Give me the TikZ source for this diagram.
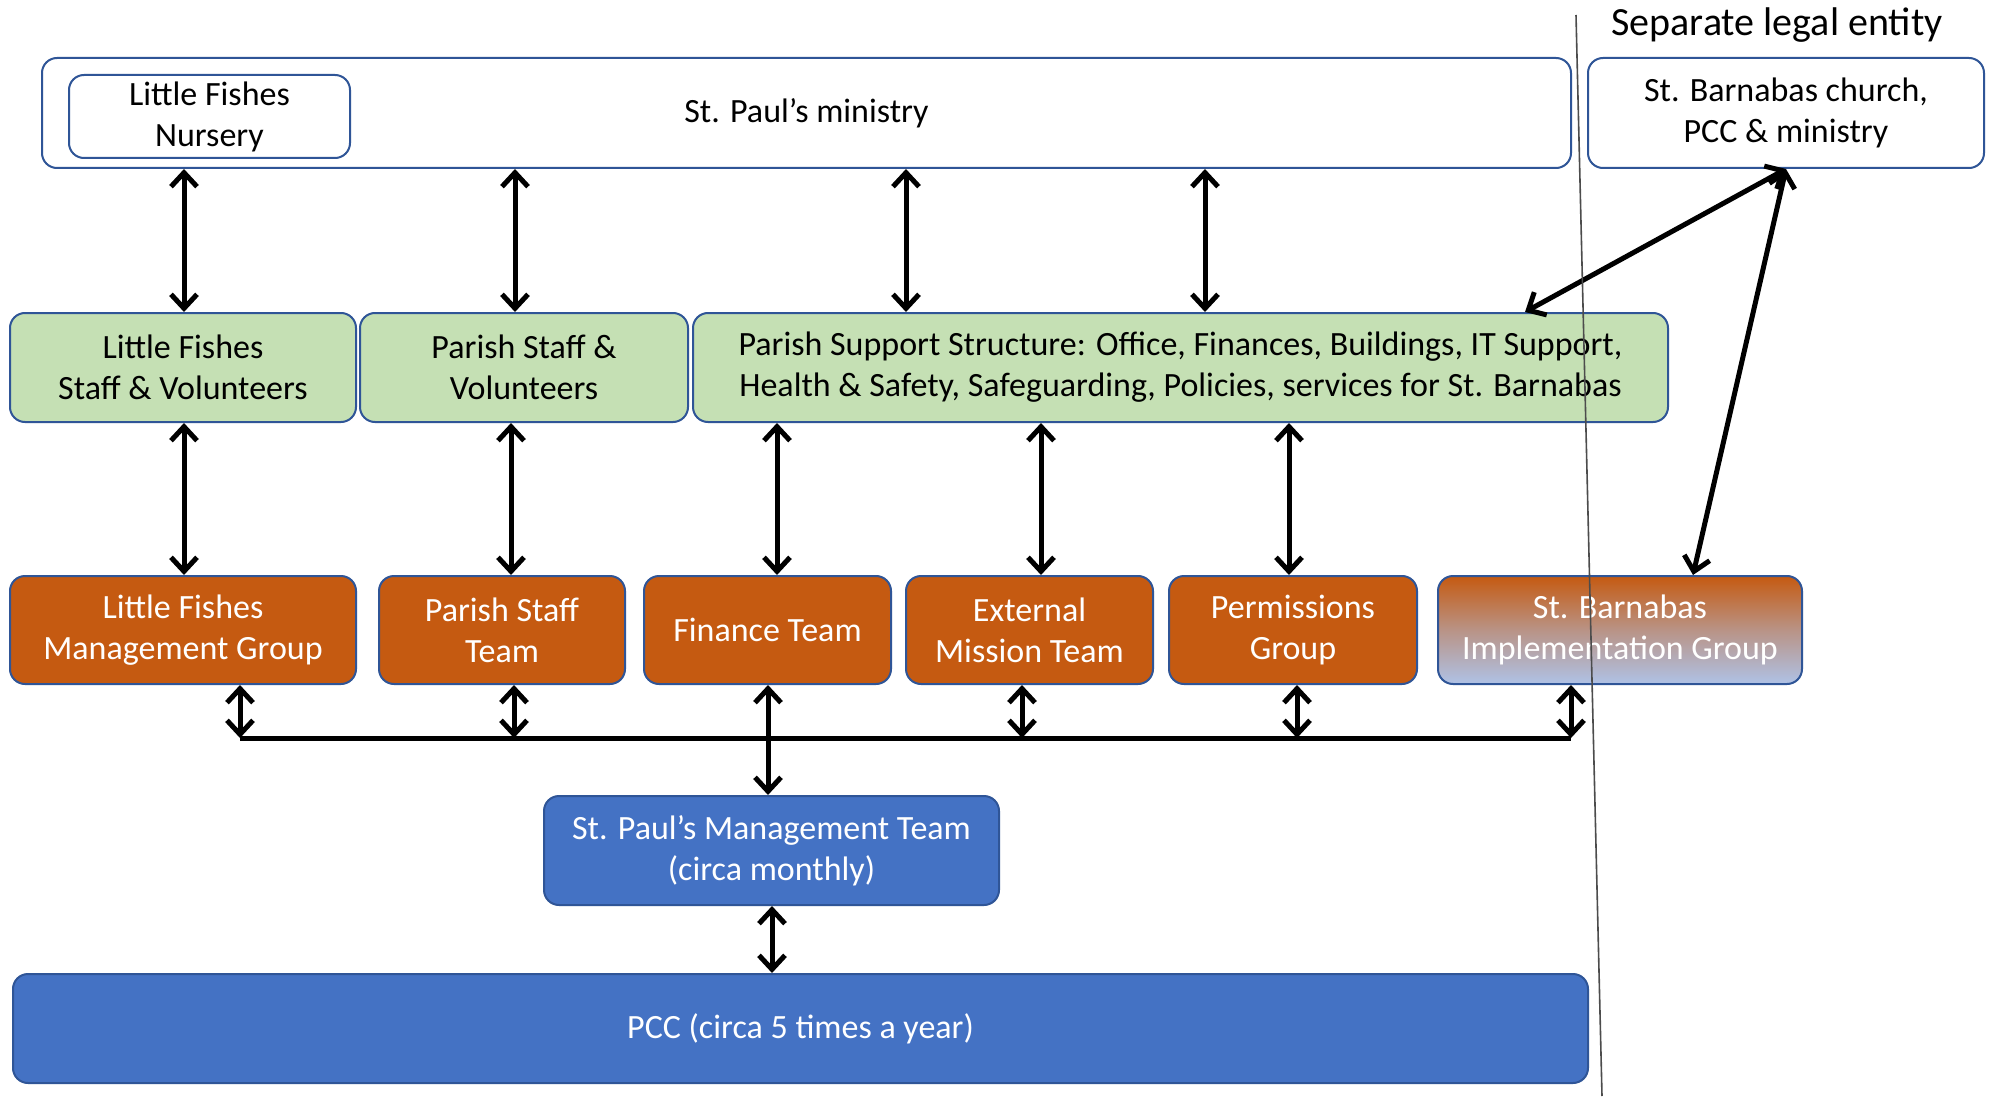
\documentclass[tikz,border=0pt]{standalone}
\usepackage{fontspec}
\setmainfont{Carlito}
\usetikzlibrary{arrows.meta}
\definecolor{bord}{HTML}{2F5597}
\definecolor{orng}{HTML}{C55A11}
\definecolor{grn}{HTML}{C5E0B4}
\definecolor{blu}{HTML}{4472C4}
\definecolor{lblu}{HTML}{AFC2E6}
\tikzset{
  bx/.style={draw=bord, line width=1pt, rounded corners=7.5pt, inner sep=0pt, align=center,
    font=\fontsize{17}{20.5}\selectfont},
  wbox/.style={bx, fill=white, text=black},
  gbox/.style={bx, fill=grn, text=black},
  obox/.style={bx, fill=orng, text=white},
  bbox/.style={bx, fill=blu, text=white},
  arr/.style={line width=2.5pt, {Straight Barb[length=7pt,width=13pt,line width=2.5pt]}-{Straight Barb[length=7pt,width=13pt,line width=2.5pt]}},
  bus/.style={line width=2.5pt}
}
\begin{document}
\begin{tikzpicture}[x=0.5pt,y=-0.5pt]
\useasboundingbox[fill=white] (0,0) rectangle (1993,1097);
% top row
\node[wbox, minimum width=764.5pt, minimum height=55pt] (min) at (806.5,113) {St. Paul’s ministry};
\node[wbox, minimum width=140.5pt, minimum height=41.5pt] (nur) at (209.5,116.5) {Little Fishes\\Nursery};
\node[wbox, minimum width=198pt, minimum height=55pt] (chu) at (1786,113) {St. Barnabas church,\\PCC \& ministry};
\node[font=\fontsize{20}{24}\selectfont] (sep) at (1777,25) {Separate legal entity};
% green row
\node[gbox, minimum width=173pt, minimum height=54.5pt] (lfs) at (183,367.5) {Little Fishes\\Staff \& Volunteers};
\node[gbox, minimum width=164pt, minimum height=54.5pt] (psv) at (524,367.5) {Parish Staff \&\\Volunteers};
\node[gbox, minimum width=487.5pt, minimum height=54.5pt] (pss) at (1180.5,367.5) {Parish Support Structure: Office, Finances, Buildings, IT Support,\\Health \& Safety, Safeguarding, Policies, services for St. Barnabas};
% orange row
\node[obox, minimum width=173pt, minimum height=54pt] (lfm) at (183,630) {Little Fishes\\Management Group};
\node[obox, minimum width=123pt, minimum height=54pt] (pst) at (502,630) {Parish Staff\\Team};
\node[obox, minimum width=123.5pt, minimum height=54pt] (fin) at (767.5,630) {Finance Team};
\node[obox, minimum width=123.5pt, minimum height=54pt] (emt) at (1029.5,630) {External\\Mission Team};
\node[obox, minimum width=124pt, minimum height=54pt] (prm) at (1293,630) {Permissions\\Group};
\node[bx, top color=orng, bottom color=lblu, middle color=lblu!55!orng, text=white, minimum width=182pt, minimum height=54pt] (sbi) at (1620,630) {St. Barnabas\\Implementation Group};
% blue
\node[bbox, minimum width=227.5pt, minimum height=54.5pt] (mgt) at (771.5,850.5) {St. Paul’s Management Team\\(circa monthly)};
\node[bbox, minimum width=787.5pt, minimum height=54.5pt] (pcc) at (800.5,1028.5) {PCC (circa 5 times a year)};
% arrows top
\draw[arr] (min.south -| 184,0) -- (lfs.north -| 184,0);
\draw[arr] (min.south -| 515,0) -- (psv.north -| 515,0);
\draw[arr] (min.south -| 906,0) -- (pss.north -| 906,0);
\draw[arr] (min.south -| 1205,0) -- (pss.north -| 1205,0);
\draw[arr] (chu.south) -- (pss.north -| 1525,0);
\draw[arr] (chu.south) -- (sbi.north -| 1693,0);
% arrows middle
\draw[arr] (lfs.south -| 184,0) -- (lfm.north -| 184,0);
\draw[arr] (psv.south -| 511,0) -- (pst.north -| 511,0);
\draw[arr] (pss.south -| 777,0) -- (fin.north -| 777,0);
\draw[arr] (pss.south -| 1041,0) -- (emt.north -| 1041,0);
\draw[arr] (pss.south -| 1289,0) -- (prm.north -| 1289,0);
% bus
\coordinate (bl) at (240,738);
\coordinate (br) at (1571,738);
\draw[bus] (bl) -- (br);
\draw[arr] (lfm.south -| bl) -- (bl);
\draw[arr] (pst.south -| 514,0) -- (bl -| 514,0);
\draw[arr] (emt.south -| 1022,0) -- (bl -| 1022,0);
\draw[arr] (prm.south -| 1297,0) -- (bl -| 1297,0);
\draw[arr] (sbi.south -| br) -- (br);
\draw[arr] (fin.south -| 768,0) -- (mgt.north -| 768,0);
\draw[arr] (mgt.south -| 772,0) -- (pcc.north -| 772,0);
% separator line
\coordinate (lt) at (1576,15);
\coordinate (lb) at (1602,1096);
\draw[line width=0.8pt, black!70] (lt) -- (lb);
\end{tikzpicture}
\end{document}
